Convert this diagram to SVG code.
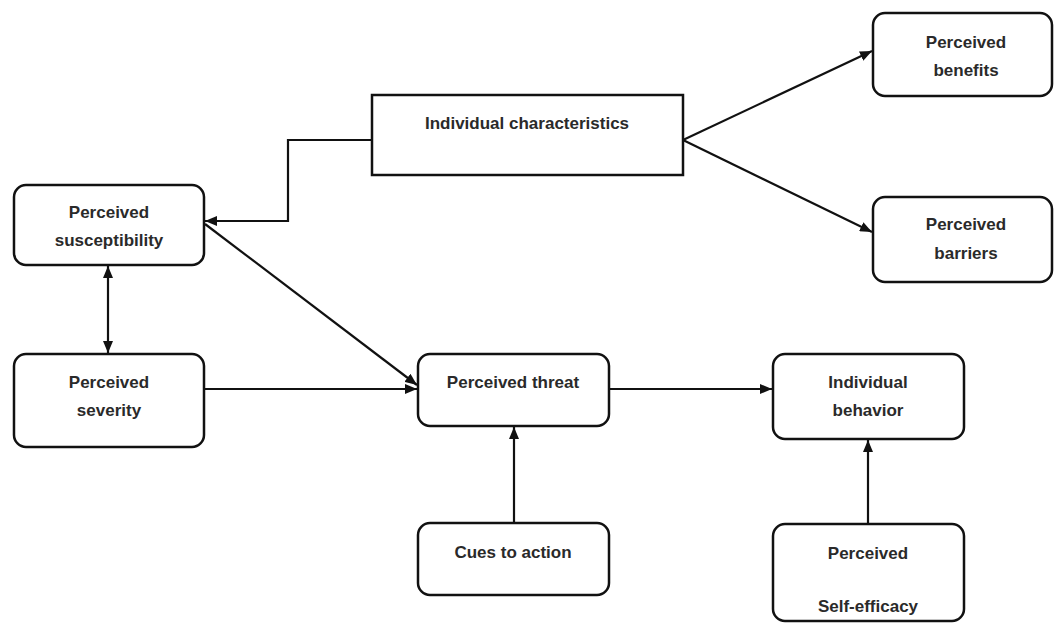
<svg xmlns="http://www.w3.org/2000/svg" width="1054" height="624" viewBox="0 0 1054 624">
<style>
.box{fill:#fff;stroke:#111;stroke-width:2.5}
.lbl{font-family:"Liberation Sans",Arial,sans-serif;font-weight:bold;font-size:17px;fill:#2a2a2a;text-anchor:middle}
.con{fill:none;stroke:#111;stroke-width:2.2}
</style>
<defs>
<marker id="ah" viewBox="0 0 12 10" refX="12" refY="5" markerWidth="12" markerHeight="10" markerUnits="userSpaceOnUse" orient="auto-start-reverse">
<path d="M0,0 L12,5 L0,10 Z" fill="#111"/>
</marker>
</defs>
<rect width="1054" height="624" fill="#fff"/>
<g id="connectors">
<path class="con" d="M372,140 H288 V221 H205" marker-end="url(#ah)"/>
<path class="con" d="M683,140 L872,51" marker-end="url(#ah)"/>
<path class="con" d="M683,140 L872,232" marker-end="url(#ah)"/>
<path class="con" d="M108,266 V353" marker-start="url(#ah)" marker-end="url(#ah)"/>
<path class="con" d="M205,224 L417,385" marker-end="url(#ah)"/>
<path class="con" d="M204,389 H417" marker-end="url(#ah)"/>
<path class="con" d="M609,389 H772" marker-end="url(#ah)"/>
<path class="con" d="M514,523 V427" marker-end="url(#ah)"/>
<path class="con" d="M868,524 V440" marker-end="url(#ah)"/>
</g>
<g id="individual-characteristics">
<rect class="box" x="372" y="95" width="311" height="80"/>
<text class="lbl" x="527" y="129">Individual characteristics</text>
</g>
<g id="perceived-benefits">
<rect class="box" x="873" y="13" width="179" height="83" rx="12"/>
<text class="lbl" x="966" y="48">Perceived</text>
<text class="lbl" x="966" y="76">benefits</text>
</g>
<g id="perceived-barriers">
<rect class="box" x="873" y="197" width="179" height="85" rx="12"/>
<text class="lbl" x="966" y="230">Perceived</text>
<text class="lbl" x="966" y="259">barriers</text>
</g>
<g id="perceived-susceptibility">
<rect class="box" x="14" y="185" width="190" height="80" rx="12"/>
<text class="lbl" x="109" y="218">Perceived</text>
<text class="lbl" x="109" y="246">susceptibility</text>
</g>
<g id="perceived-severity">
<rect class="box" x="14" y="354" width="190" height="93" rx="12"/>
<text class="lbl" x="109" y="388">Perceived</text>
<text class="lbl" x="109" y="416">severity</text>
</g>
<g id="perceived-threat">
<rect class="box" x="418" y="354" width="191" height="72" rx="12"/>
<text class="lbl" x="513" y="388">Perceived  threat</text>
</g>
<g id="cues-to-action">
<rect class="box" x="418" y="523" width="191" height="72" rx="12"/>
<text class="lbl" x="513" y="558">Cues to action</text>
</g>
<g id="individual-behavior">
<rect class="box" x="773" y="354" width="191" height="85" rx="12"/>
<text class="lbl" x="868" y="388">Individual</text>
<text class="lbl" x="868" y="416">behavior</text>
</g>
<g id="perceived-self-efficacy">
<rect class="box" x="773" y="524" width="191" height="97" rx="12"/>
<text class="lbl" x="868" y="559">Perceived</text>
<text class="lbl" x="868" y="612">Self-efficacy</text>
</g>
</svg>
